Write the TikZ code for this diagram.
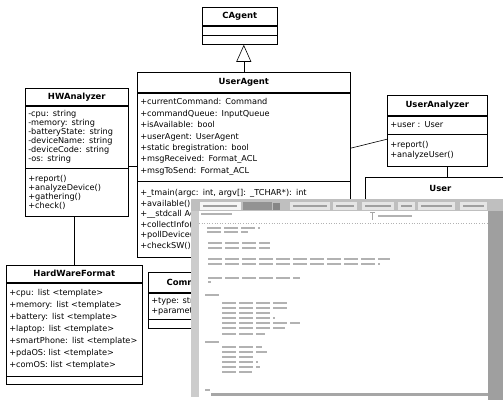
\documentclass[tikz,border=0pt]{standalone}
\usepackage{fontspec}
\setmainfont{DejaVu Sans}
\usetikzlibrary{positioning,arrows.meta}

\newcommand\memfont[1]{\fontsize{8.2}{#1}\selectfont}

\tikzset{
  umltitle/.style={draw, anchor=north west, inner sep=0pt,
    font=\fontsize{8.5}{10}\selectfont\bfseries},
  umlpart/.style={draw, inner xsep=3bp, inner ysep=0pt, align=left},
  inherit/.style={-{Triangle[open,fill=white,length=17bp,width=15bp]}},
  codeline/.style={gray!60, line width=1.6bp, dash pattern=on 14bp off 3bp},
  tabbox/.style={fill=gray!20},
  tablabel/.style={gray!75, line width=1.5bp},
}

\begin{document}
\begin{tikzpicture}[x=1bp,y=-1bp,line width=0.6bp]
  \useasboundingbox (0,0) rectangle (503,413);
  \clip (0,0) rectangle (503,413);

  % CAgent
  \node[umltitle, minimum width=75bp, minimum height=18bp] (ca) at (202,7) {CAgent};
  \node[umlpart, text width=69bp, minimum height=9bp, below=0pt of ca] (caattr) {};
  \node[umlpart, text width=69bp, minimum height=9bp, below=0pt of caattr] (caops) {};

  % UserAgent
  \node[umltitle, minimum width=213bp, minimum height=20bp] (ua) at (137,72) {UserAgent};
  \node[umlpart, text width=207bp, minimum height=88bp, below=0pt of ua,
    font=\memfont{11.5}] (uaattr) {+currentCommand: Command\\
    +commandQueue: InputQueue\\
    +isAvailable: bool\\
    +userAgent: UserAgent\\
    +static bregistration: bool\\
    +msgReceived: Format\_ACL\\
    +msgToSend: Format\_ACL};
  \node[umlpart, text width=207bp, minimum height=76bp, below=0pt of uaattr,
    font=\memfont{10.6}] (uaops) {+\_tmain(argc: int, argv[]: \_TCHAR*): int\\
    +available()\\
    +\_\_stdcall AcceptThread()\\
    +collectInfo()\\
    +pollDevice()\\
    +checkSW()};

  % HWAnalyzer
  \node[umltitle, minimum width=103bp, minimum height=17bp] (hw) at (25,88) {HWAnalyzer};
  \node[umlpart, text width=97bp, minimum height=62bp, below=0pt of hw,
    font=\memfont{9}] (hwattr) {-cpu: string\\
    -memory: string\\
    -batteryState: string\\
    -deviceName: string\\
    -deviceCode: string\\
    -os: string};
  \node[umlpart, text width=97bp, minimum height=48bp, below=0pt of hwattr,
    font=\memfont{9}] (hwops) {+report()\\
    +analyzeDevice()\\
    +gathering()\\
    +check()};

  % HardWareFormat
  \node[umltitle, minimum width=136bp, minimum height=17bp] (hwf) at (6,265) {HardWareFormat};
  \node[umlpart, text width=130bp, minimum height=93bp, below=0pt of hwf,
    font=\memfont{12}] (hwfattr) {+cpu: list <template>\\
    +memory: list <template>\\
    +battery: list <template>\\
    +laptop: list <template>\\
    +smartPhone: list <template>\\
    +pdaOS: list <template>\\
    +comOS: list <template>};
  \node[umlpart, text width=130bp, minimum height=8bp, below=0pt of hwfattr] (hwfops) {};

  % Command
  \node[umltitle, minimum width=84bp, minimum height=20bp] (cmd) at (148,272) {Command};
  \node[umlpart, anchor=north west, minimum width=84bp, minimum height=26bp,
    font=\memfont{10}] (cmdattr) at (cmd.south west) {+type: string\\
    +parameters: string};
  \node[umlpart, anchor=north west, minimum width=84bp, minimum height=9bp]
    (cmdops) at (cmdattr.south west) {};

  % UserAnalyzer
  \node[umltitle, minimum width=100bp, minimum height=20bp] (uz) at (387,95) {UserAnalyzer};
  \node[umlpart, text width=94bp, minimum height=18bp, below=0pt of uz,
    font=\memfont{10}] (uzattr) {+user : User};
  \node[umlpart, text width=94bp, minimum height=32bp, below=0pt of uzattr,
    font=\memfont{10}] (uzops) {+report()\\
    +analyzeUser()};

  % User
  \node[umltitle, minimum width=150bp, minimum height=22bp] (user) at (365,177) {User};

  % connectors
  \draw[inherit] (ua.north) -- (ua.north |- caops.south);
  \draw ([yshift=2bp]hwattr.south east) -- ([yshift=2bp]hwattr.south east -| uaattr.west);
  \draw (hwf.north) -- (hwf.north |- hwops.south);
  \draw ([yshift=33bp]uaattr.south east) -- ([yshift=-5bp]uzops.north west);
  \draw ([xshift=10bp]uzops.south) -- ([xshift=10bp]uzops.south |- user.north);

  % editor window on top
  \fill[gray!50] (191,199) rectangle (503,211);
  \fill[gray!40] (191,211) rectangle (199,397);
  \fill[white] (199,211) rectangle (488,395);
  \fill[gray!75] (488,211) rectangle (503,400);
  \fill[gray!70] (211,392.5) rectangle (488,395.5);

  % tabs
  \fill[gray!8] (200,202) rectangle (241,210);
  \draw[tablabel] (203,206) -- (237,206);
  \fill[gray!85] (243,202) rectangle (272,210);
  \fill[gray!95] (273,203) rectangle (280,210);
  \foreach \a/\b in {290/330, 333/357, 362/394, 398/415, 418/455, 460/487}{
    \fill[tabbox] (\a,202) rectangle (\b,210);
    \draw[tablabel] (\a+3,206) -- (\b-3,206);
  }

  % editor header
  \draw[gray!60, line width=1.4bp] (201,214) -- (232,214);
  \draw[gray!60, dotted] (199,223) -- (488,223);
  \draw[gray!70, line width=1bp] (370,212) -- (375,212) (372.5,212) -- (372.5,220);
  \draw[gray!60, line width=1.4bp] (378,216) -- (412,216);

  % code lines
  \foreach \x/\y/\e in {207/228/260, 207/232/248, 208/243/270, 208/248/270,
      208/259/390, 208/264/380, 208/278/300, 208/282/211, 205/295/222,
      222/303/290, 222/308/290, 222/313/270, 222/318/275, 222/323/300,
      222/328/285, 222/334/265, 205/342/221, 222/347/262, 222/352/267,
      222/357/255, 222/362/258, 222/367/260, 222/372/252, 205/390/210}{
    \draw[codeline] (\x,\y) -- (\e,\y);
  }
\end{tikzpicture}
\end{document}
